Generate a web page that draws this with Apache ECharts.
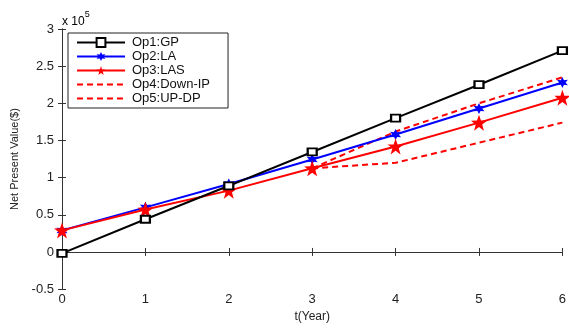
<!DOCTYPE html>
<html>
<head>
<meta charset="utf-8">
<script src="https://cdn.jsdelivr.net/npm/echarts@6/dist/echarts.min.js"></script>
<style>
  html, body { margin: 0; padding: 0; background: #fff; }
  #chart { width: 569px; height: 328px; }
</style>
</head>
<body>
<div id="chart"></div>
<script>
// 年份（横轴）
const years = [0, 1, 2, 3, 4, 5, 6]

// 各方案净现值（$）
const gp = [-2000, 44000, 89000, 134500, 180000, 225000, 271000]
const la = [29000, 60000, 91500, 124500, 158000, 193000, 228000]
const las = [29000, 57000, 82500, 112500, 142000, 174000, 207500]
// 两条虚线从第 3 年开始
const downIp = [null, null, null, 112500, 120000, 147000, 174000]
const upDp = [null, null, null, 112500, 162000, 200000, 235000]

const seriesNames = ['Op1:GP', 'Op2:LA', 'Op3:LAS', 'Op4:Down-IP', 'Op5:UP-DP']

// 纵轴刻度（单位 1e5）
const yMin = -50000
const yMax = 300000
const yStep = 50000

const starPath = 'path://M0,-10 L2.35,-3.24 L9.51,-3.09 L3.8,1.24 L5.88,8.09 L0,4 L-5.88,8.09 L-3.8,1.24 L-9.51,-3.09 L-2.35,-3.24 Z'
const asteriskPath = 'path://M0,-10 L2.5,-4.3 L8.7,-5 L5,0 L8.7,5 L2.5,4.3 L0,10 L-2.5,4.3 L-8.7,5 L-5,0 L-8.7,-5 L-2.5,-4.3 Z'

function pairs(values) {
  return years.map((x, i) => [x, values[i]])
}

const chart = echarts.init(document.getElementById('chart'), null, { renderer: 'canvas' })

const font = 'Liberation Sans, Arial, sans-serif'
const axisColor = '#333'

const option = {
  backgroundColor: '#fff',
  animation: false,
  textStyle: { fontFamily: font },
  grid: { left: 62, right: 1, top: 29, bottom: 28 },
  legend: {
    orient: 'vertical',
    left: 68,
    top: 33,
    data: [
      { name: seriesNames[0] },
      { name: seriesNames[1] },
      { name: seriesNames[2] },
      { name: seriesNames[3], itemStyle: { opacity: 0 } },
      { name: seriesNames[4], itemStyle: { opacity: 0 } },
    ],
    itemWidth: 48,
    itemHeight: 11,
    itemGap: 1,
    padding: [3, 18, 3, 8],
    borderColor: '#222',
    borderWidth: 1,
    backgroundColor: '#fff',
    textStyle: { fontFamily: font, fontSize: 13, lineHeight: 13, color: '#111', padding: [0, 0, 0, 2] },
  },
  graphic: [
    {
      type: 'text',
      left: 62,
      top: 10,
      style: {
        text: '{a|x 10}{b|5}',
        rich: {
          a: { fontFamily: font, fontSize: 12, color: '#222', padding: [6, 0, 0, 0] },
          b: { fontFamily: font, fontSize: 9, color: '#222', verticalAlign: 'top' },
        },
      },
    },
  ],
  xAxis: [
    {
      type: 'value',
      min: 0,
      max: 6,
      interval: 1,
      name: 't(Year)',
      nameLocation: 'middle',
      nameGap: 14,
      nameTextStyle: { fontFamily: font, fontSize: 12, color: '#222' },
      axisLine: { lineStyle: { color: axisColor, width: 1 } },
      axisTick: { inside: true, length: 4, lineStyle: { color: axisColor } },
      axisLabel: { fontFamily: font, fontSize: 13, color: '#222', margin: 4 },
      splitLine: { show: false },
    },
    {
      type: 'value',
      position: 'top',
      min: 0,
      max: 6,
      interval: 1,
      axisLine: { lineStyle: { color: axisColor, width: 1 } },
      axisTick: { show: true, inside: true, length: 4, lineStyle: { color: axisColor } },
      axisLabel: { show: false },
      splitLine: { show: false },
    },
  ],
  yAxis: [
    {
      type: 'value',
      min: yMin,
      max: yMax,
      interval: yStep,
      name: 'Net Present Value($)',
      nameLocation: 'middle',
      nameGap: 40,
      nameTextStyle: { fontFamily: font, fontSize: 11, color: '#222' },
      axisLine: { show: true, lineStyle: { color: axisColor, width: 1 } },
      axisTick: { show: true, inside: true, length: 4, lineStyle: { color: axisColor } },
      axisLabel: {
        fontFamily: font,
        fontSize: 13,
        color: '#222',
        margin: 8,
        formatter: (v) => String(Math.round(v / 1e4) / 10),
      },
      splitLine: { show: false },
    },
    {
      type: 'value',
      position: 'right',
      min: yMin,
      max: yMax,
      interval: yStep,
      axisLine: { show: true, lineStyle: { color: axisColor, width: 1 } },
      axisTick: { show: true, inside: true, length: 4, lineStyle: { color: axisColor } },
      axisLabel: { show: false },
      splitLine: { show: false },
    },
  ],
  series: [
    {
      name: seriesNames[0],
      type: 'line',
      data: pairs(gp),
      symbol: 'emptyRect',
      symbolSize: [9, 7],
      color: '#000',
      lineStyle: { color: '#000', width: 2 },
      itemStyle: { color: '#000', borderColor: '#000', borderWidth: 2 },
      z: 5,
    },
    {
      name: seriesNames[1],
      type: 'line',
      data: pairs(la),
      symbol: asteriskPath,
      symbolSize: 11,
      color: '#0000ff',
      lineStyle: { color: '#0000ff', width: 2 },
      itemStyle: { color: '#0000ff' },
      z: 4,
    },
    {
      name: seriesNames[2],
      type: 'line',
      data: pairs(las),
      symbol: starPath,
      symbolSize: 16,
      color: '#ff0000',
      lineStyle: { color: '#ff0000', width: 2 },
      itemStyle: { color: '#ff0000' },
      z: 4,
    },
    {
      name: seriesNames[3],
      type: 'line',
      data: pairs(downIp),
      symbol: 'none',
      color: '#ff0000',
      lineStyle: { color: '#ff0000', width: 2, type: [6, 4] },
      z: 3,
    },
    {
      name: seriesNames[4],
      type: 'line',
      data: pairs(upDp),
      symbol: 'none',
      color: '#ff0000',
      lineStyle: { color: '#ff0000', width: 2, type: [6, 4] },
      z: 3,
    },
  ],
}

chart.setOption(option)
</script>
</body>
</html>
